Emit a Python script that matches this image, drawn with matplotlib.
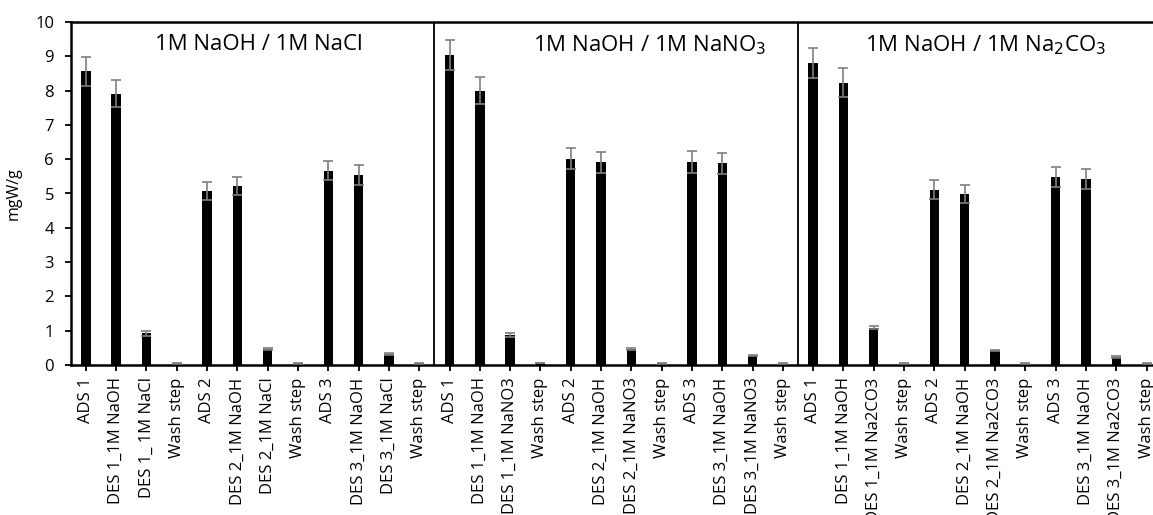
import matplotlib
matplotlib.use("Agg")
import matplotlib.pyplot as plt
import numpy as np

plt.rcParams['font.family'] = ['Open Sans', 'DejaVu Sans']

labels_nacl = ["ADS 1", "DES 1_1M NaOH", "DES 1_ 1M NaCl", "Wash step",
               "ADS 2", "DES 2_1M NaOH", "DES 2_1M NaCl", "Wash step",
               "ADS 3", "DES 3_1M NaOH", "DES 3_1M NaCl", "Wash step"]
labels_nano3 = ["ADS 1", "DES 1_1M NaOH", "DES 1_1M NaNO3", "Wash step",
                "ADS 2", "DES 2_1M NaOH", "DES 2_1M NaNO3", "Wash step",
                "ADS 3", "DES 3_1M NaOH", "DES 3_1M NaNO3", "Wash step"]
labels_na2co3 = ["ADS 1", "DES 1_1M NaOH", "DES 1_1M Na2CO3", "Wash step",
                 "ADS 2", "DES 2_1M NaOH", "DES 2_1M Na2CO3", "Wash step",
                 "ADS 3", "DES 3_1M NaOH", "DES 3_1M Na2CO3", "Wash step"]

vals_nacl = [8.56, 7.91, 0.92, 0.05, 5.08, 5.23, 0.47, 0.05, 5.67, 5.55, 0.32, 0.05]
err_nacl = [0.43, 0.40, 0.06, 0.01, 0.26, 0.26, 0.03, 0.01, 0.29, 0.29, 0.03, 0.01]
vals_nano3 = [9.03, 8.00, 0.88, 0.06, 6.02, 5.91, 0.46, 0.05, 5.92, 5.88, 0.27, 0.04]
err_nano3 = [0.44, 0.40, 0.05, 0.01, 0.31, 0.31, 0.03, 0.01, 0.31, 0.30, 0.02, 0.01]
vals_na2co3 = [8.81, 8.23, 1.09, 0.04, 5.11, 4.99, 0.43, 0.04, 5.47, 5.43, 0.23, 0.04]
err_na2co3 = [0.44, 0.43, 0.05, 0.01, 0.27, 0.26, 0.02, 0.01, 0.29, 0.29, 0.02, 0.01]

group_titles = ["1M NaOH / 1M NaCl", "1M NaOH / 1M NaNO$_3$", "1M NaOH / 1M Na$_2$CO$_3$"]
title_pos = [5.7, 18.6, 29.7]
y_label = "mgW/g"

labels = labels_nacl + labels_nano3 + labels_na2co3
vals = vals_nacl + vals_nano3 + vals_na2co3
errs = err_nacl + err_nano3 + err_na2co3
x = np.arange(len(labels))

fig = plt.figure(figsize=(11.53, 5.15), dpi=100)
ax = fig.add_axes([70.7 / 1153, 1 - 365 / 515, 1091 / 1153, (365 - 22) / 515])

ax.bar(x, vals, width=0.31, color='black', zorder=2)
ax.errorbar(x, vals, yerr=errs, fmt='none', ecolor='#7f7f7f', elinewidth=1.2,
            capsize=3.5, capthick=1.2, zorder=3)

ax.set_xlim(-0.5, len(labels) - 0.5)
ax.set_ylim(0, 10)
ax.set_yticks(range(0, 11))
ax.set_xticks(x)
ax.set_xticklabels(labels, rotation=90, fontsize=12)
ax.tick_params(axis='y', labelsize=12, length=4, width=1.3, direction='out', pad=8)
ax.tick_params(axis='x', length=4, width=1.3, direction='out', pad=5)
ax.set_ylabel(y_label, fontsize=11.5, labelpad=10)

for s in ['left', 'bottom', 'top', 'right']:
    ax.spines[s].set_linewidth(1.8)
    ax.spines[s].set_color('black')

for sep in [11.5, 23.5]:
    ax.axvline(sep, color='black', linewidth=1.3, zorder=1)

for t, px in zip(group_titles, title_pos):
    ax.text(px, 9.33, t, ha='center', va='center', fontsize=16)

fig.savefig("out.png", dpi=100)
